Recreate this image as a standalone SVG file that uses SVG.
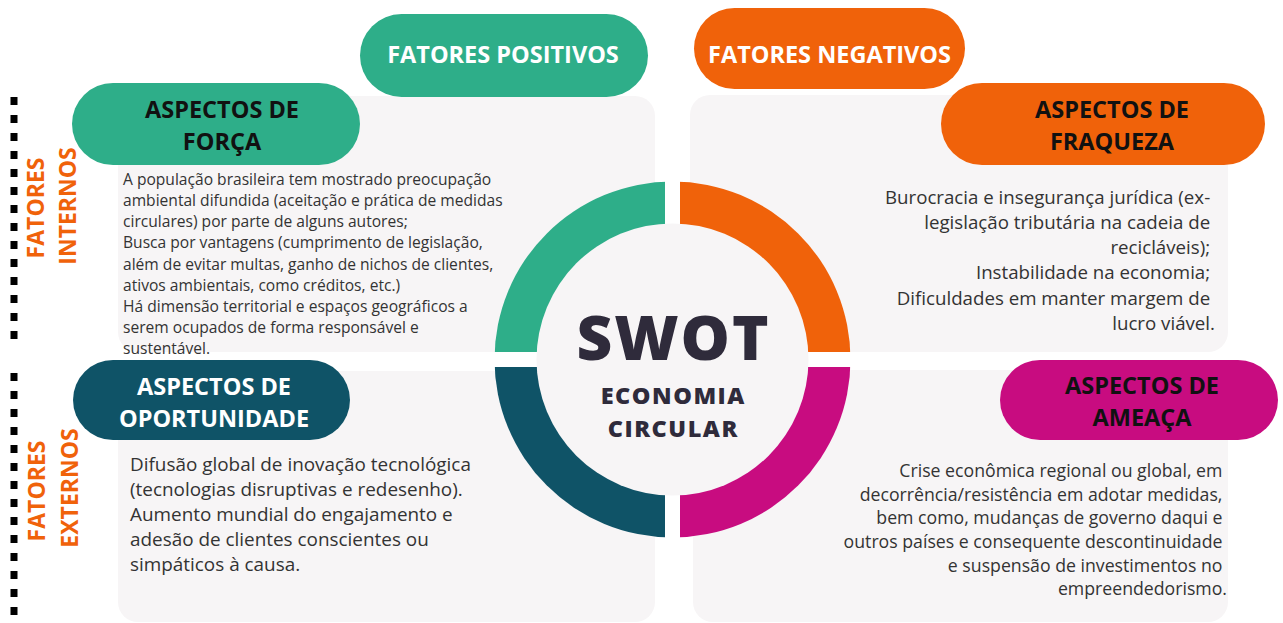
<svg xmlns="http://www.w3.org/2000/svg" width="1283" height="623" viewBox="0 0 1283 623">
<style>
.panel{fill:#f7f5f6}
.hdr{font-family:"Open Sans","Liberation Sans",sans-serif;font-weight:700;font-size:23.5px;text-anchor:middle}
.w{fill:#ffffff}
.k{fill:#111111}
.side{font-family:"Open Sans","Liberation Sans",sans-serif;font-weight:700;font-size:23px;fill:#f0620a;text-anchor:middle}
.body{font-family:"Open Sans","Liberation Sans",sans-serif;fill:#333333}
.dash{stroke:#000;stroke-width:7;stroke-dasharray:8 10;fill:none}
.ctr{font-family:"Open Sans","Liberation Sans",sans-serif;font-weight:800;fill:#2f2b3b;text-anchor:middle}
</style>
<rect width="1283" height="623" fill="#ffffff"/>
<g id="panels">
<rect class="panel" x="118" y="96" width="537" height="256" rx="20"/>
<rect class="panel" x="690" y="95" width="538" height="257" rx="20"/>
<rect class="panel" x="118" y="371" width="537" height="251" rx="20"/>
<rect class="panel" x="693" y="370" width="535" height="252" rx="20"/>
</g>
<g id="side-labels">
<line class="dash" x1="14" y1="97" x2="14" y2="340"/>
<line class="dash" x1="14" y1="373" x2="14" y2="616"/>
<text class="side" transform="translate(44,208) rotate(-90)">FATORES</text>
<text class="side" transform="translate(76,206) rotate(-90)">INTERNOS</text>
<text class="side" transform="translate(45,491) rotate(-90)">FATORES</text>
<text class="side" transform="translate(78,488) rotate(-90)">EXTERNOS</text>
</g>
<g id="swot-ring">
<path d="M672.5 359.5 L494.5 359.5 A178 178 0 0 1 672.5 181.5 Z" fill="#2eae89"/>
<path d="M672.5 359.5 L672.5 181.5 A178 178 0 0 1 850.5 359.5 Z" fill="#f0620a"/>
<path d="M672.5 359.5 L850.5 359.5 A178 178 0 0 1 672.5 537.5 Z" fill="#c80c80"/>
<path d="M672.5 359.5 L672.5 537.5 A178 178 0 0 1 494.5 359.5 Z" fill="#0f5367"/>
<rect x="665" y="178" width="15" height="364" fill="#ffffff"/>
<rect x="490" y="352" width="365" height="15" fill="#ffffff"/>
<circle cx="672.5" cy="359.5" r="136" fill="#f7f5f6"/>
<text class="ctr" x="673.5" y="360" font-size="62" letter-spacing="2">SWOT</text>
<text class="ctr" x="673.3" y="404" font-size="23.5" letter-spacing="1.5">ECONOMIA</text>
<text class="ctr" x="673.3" y="436.5" font-size="23.5" letter-spacing="1.5">CIRCULAR</text>
</g>
<g id="fatores-positivos">
<rect x="360" y="14" width="288" height="83" rx="41.5" fill="#2eae89"/>
<text class="hdr w" x="503" y="63">FATORES POSITIVOS</text>
</g>
<g id="fatores-negativos">
<rect x="694" y="8" width="271" height="81" rx="40.5" fill="#f0620a"/>
<text class="hdr w" x="829.5" y="63">FATORES NEGATIVOS</text>
</g>
<g id="forca">
<rect x="72" y="83" width="288" height="82" rx="41" fill="#2eae89"/>
<text class="hdr k" x="222" y="118">ASPECTOS DE</text>
<text class="hdr k" x="222" y="150">FORÇA</text>
<text class="body" font-size="15.6">
<tspan x="123" y="185">A população brasileira tem mostrado preocupação</tspan>
<tspan x="123" y="206">ambiental difundida (aceitação e prática de medidas</tspan>
<tspan x="123" y="227">circulares) por parte de alguns autores;</tspan>
<tspan x="123" y="248">Busca por vantagens (cumprimento de legislação,</tspan>
<tspan x="123" y="270">além de evitar multas, ganho de nichos de clientes,</tspan>
<tspan x="123" y="291">ativos ambientais, como créditos, etc.)</tspan>
<tspan x="123" y="312">Há dimensão territorial e espaços geográficos a</tspan>
<tspan x="123" y="333">serem ocupados de forma responsável e</tspan>
<tspan x="123" y="354">sustentável.</tspan>
</text>
</g>
<g id="fraqueza">
<rect x="941" y="83" width="324" height="82" rx="41" fill="#f0620a"/>
<text class="hdr k" x="1112" y="118">ASPECTOS DE</text>
<text class="hdr k" x="1112" y="150">FRAQUEZA</text>
<text class="body" font-size="18.7" text-anchor="end">
<tspan x="1215" y="204">Burocracia e insegurança jurídica (ex-</tspan>
<tspan x="1215" y="229">legislação tributária na cadeia de</tspan>
<tspan x="1215" y="254">recicláveis);</tspan>
<tspan x="1215" y="279">Instabilidade na economia;</tspan>
<tspan x="1215" y="305">Dificuldades em manter margem de</tspan>
<tspan x="1215" y="330">lucro viável.</tspan>
</text>
</g>
<g id="oportunidade">
<rect x="73" y="360" width="277" height="80" rx="40" fill="#0f5367"/>
<text class="hdr w" x="214" y="395">ASPECTOS DE</text>
<text class="hdr w" x="214" y="427">OPORTUNIDADE</text>
<text class="body" font-size="18.9">
<tspan x="130" y="471">Difusão global de inovação tecnológica</tspan>
<tspan x="130" y="496">(tecnologias disruptivas e redesenho).</tspan>
<tspan x="130" y="521">Aumento mundial do engajamento e</tspan>
<tspan x="130" y="546">adesão de clientes conscientes ou</tspan>
<tspan x="130" y="571">simpáticos à causa.</tspan>
</text>
</g>
<g id="ameaca">
<rect x="1000" y="360" width="278" height="80" rx="40" fill="#c80c80"/>
<text class="hdr k" x="1142" y="394">ASPECTOS DE</text>
<text class="hdr k" x="1142" y="426">AMEAÇA</text>
<text class="body" font-size="17.7" text-anchor="end">
<tspan x="1227" y="477">Crise econômica regional ou global, em</tspan>
<tspan x="1227" y="501">decorrência/resistência em adotar medidas,</tspan>
<tspan x="1227" y="524">bem como, mudanças de governo daqui e</tspan>
<tspan x="1227" y="548">outros países e consequente descontinuidade</tspan>
<tspan x="1227" y="572">e suspensão de investimentos no</tspan>
<tspan x="1227" y="595">empreendedorismo.</tspan>
</text>
</g>
</svg>
